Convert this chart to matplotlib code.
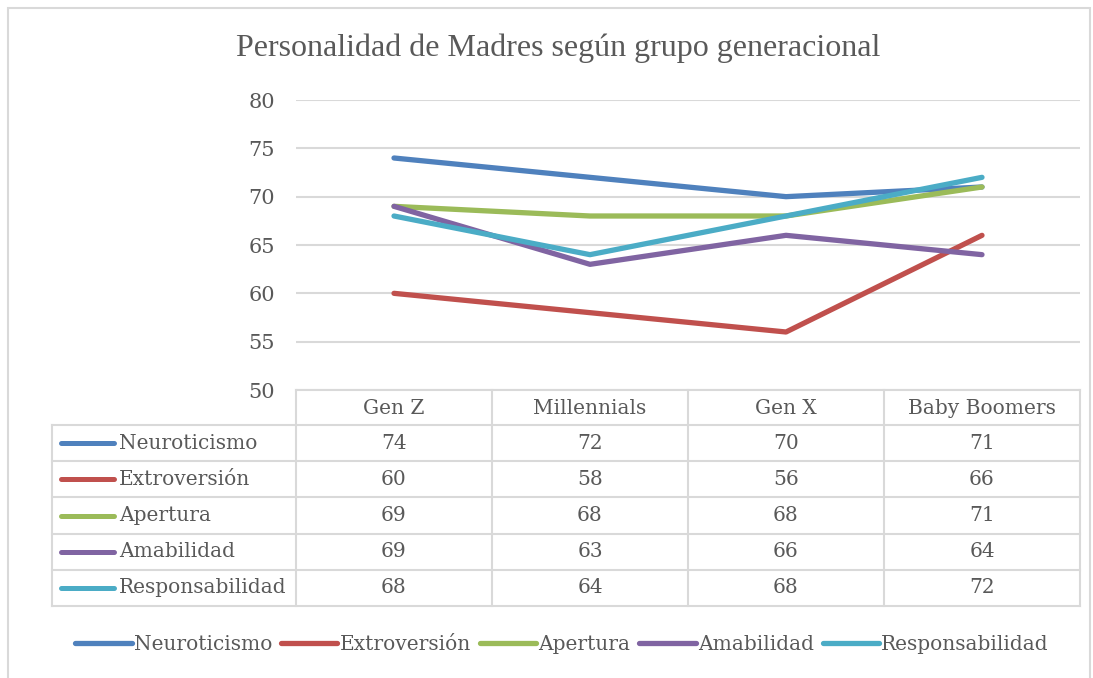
import matplotlib
matplotlib.use("Agg")
import matplotlib.pyplot as plt
import matplotlib.transforms as mtransforms
from matplotlib.patches import Rectangle

categories = ["Gen Z", "Millennials", "Gen X", "Baby Boomers"]
series_names = ["Neuroticismo", "Extroversión", "Apertura", "Amabilidad", "Responsabilidad"]
neuroticismo = [74, 72, 70, 71]
extroversion = [60, 58, 56, 66]
apertura = [69, 68, 68, 71]
amabilidad = [69, 63, 66, 64]
responsabilidad = [68, 64, 68, 72]
yticks = [50, 55, 60, 65, 70, 75, 80]

series_values = [neuroticismo, extroversion, apertura, amabilidad, responsabilidad]
colors = ["#4F81BD", "#C0504D", "#9BBB59", "#8064A2", "#4BACC6"]
text_color = "#595959"
grid_color = "#D9D9D9"
table_font = "DejaVu Serif"

W, H = 1093, 678
fig = plt.figure(figsize=(W / 100, H / 100), dpi=100)


def fx(px):
    return px / W


def fy(py):
    return 1 - py / H


# outer frame
fig.patches.append(Rectangle((fx(8), fy(690)), fx(1082), fy(8) - fy(690),
                             transform=fig.transFigure, fill=False,
                             edgecolor=grid_color, linewidth=1.5))

ax_left, ax_right, ax_top, ax_bottom = 296, 1080, 100, 390
ax = fig.add_axes([fx(ax_left), fy(ax_bottom), fx(ax_right - ax_left), (ax_bottom - ax_top) / H])

x = list(range(len(categories)))
for name, vals, col in zip(series_names, series_values, colors):
    ax.plot(x, vals, color=col, linewidth=3.8, solid_capstyle="round", label=name)

ax.set_xlim(-0.5, len(categories) - 0.5)
ax.set_ylim(min(yticks), max(yticks))
ax.set_yticks(yticks)
ax.set_xticks([])
ax.grid(axis="y", color=grid_color, linewidth=1.5)
ax.set_axisbelow(True)
for s in ax.spines.values():
    s.set_visible(False)
ax.tick_params(axis="y", length=0, pad=15, labelsize=15, labelcolor=text_color)
for lbl in ax.get_yticklabels():
    lbl.set_fontfamily(table_font)

fig.text(fx(558), fy(48), "Personalidad de Madres según grupo generacional",
         ha="center", va="center", fontsize=23, color=text_color,
         fontfamily="Liberation Serif")

# data table beneath the axis
trans = mtransforms.blended_transform_factory(ax.transData, fig.transFigure)
row_h = 36.2
header_top = ax_bottom
rows_top = header_top + 35
table_bottom = rows_top + row_h * len(series_names)
label_left = 52
lw = 1.5
fs = 14.5

bounds = [i - 0.5 for i in range(len(categories) + 1)]
for b in bounds:
    ax.add_line(plt.Line2D([b, b], [fy(header_top), fy(table_bottom)], transform=trans,
                           color=grid_color, linewidth=lw, clip_on=False))
fig.add_artist(plt.Line2D([fx(label_left), fx(label_left)], [fy(rows_top), fy(table_bottom)],
                          transform=fig.transFigure, color=grid_color, linewidth=lw))
fig.add_artist(plt.Line2D([fx(ax_left), fx(ax_right)], [fy(header_top), fy(header_top)],
                          transform=fig.transFigure, color=grid_color, linewidth=lw))
for r in range(len(series_names) + 1):
    yy = rows_top + r * row_h
    fig.add_artist(plt.Line2D([fx(label_left), fx(ax_right)], [fy(yy), fy(yy)],
                              transform=fig.transFigure, color=grid_color, linewidth=lw))

for i, c in enumerate(categories):
    ax.text(i, fy(header_top + 18), c, transform=trans, ha="center", va="center",
            fontsize=fs, color=text_color, fontfamily=table_font)

for r, (name, vals, col) in enumerate(zip(series_names, series_values, colors)):
    yc = rows_top + r * row_h + row_h / 2
    fig.add_artist(plt.Line2D([fx(61), fx(114)], [fy(yc), fy(yc)], transform=fig.transFigure,
                              color=col, linewidth=3.6, solid_capstyle="round"))
    fig.text(fx(119), fy(yc), name, ha="left", va="center", fontsize=fs,
             color=text_color, fontfamily=table_font)
    for i, v in enumerate(vals):
        ax.text(i, fy(yc), str(v), transform=trans, ha="center", va="center",
                fontsize=fs, color=text_color, fontfamily=table_font)

handles, labels = ax.get_legend_handles_labels()
leg = fig.legend(handles, labels, loc="center", bbox_to_anchor=(fx(562), fy(645)),
                 ncol=5, frameon=False, handlelength=2.8, handletextpad=0.1,
                 columnspacing=0.45, prop={"family": table_font, "size": 14.5})
for t in leg.get_texts():
    t.set_color(text_color)

fig.savefig("out.png", dpi=100)
